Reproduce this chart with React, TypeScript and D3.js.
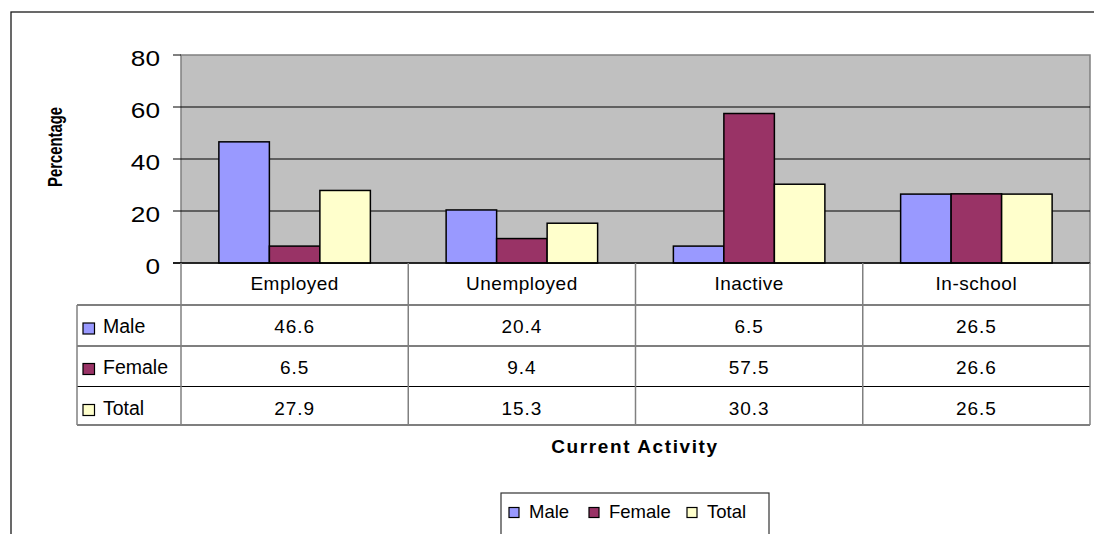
import React from "react";
import * as d3 from "d3";

const categories = ["Employed", "Unemployed", "Inactive", "In-school"];
const seriesNames = ["Male", "Female", "Total"];
const maleValues = [46.6, 20.4, 6.5, 26.5];
const femaleValues = [6.5, 9.4, 57.5, 26.6];
const totalValues = [27.9, 15.3, 30.3, 26.5];
const yTicks = [0, 20, 40, 60, 80];
const seriesColors = ["#9999FF", "#993366", "#FFFFCC"];

const FONT = "'Liberation Sans', Arial, Helvetica, sans-serif";

export default function App() {
  const W = 1094;
  const H = 534;
  const plotL = 181;
  const plotR = 1090;
  const plotT = 55;
  const plotB = 263;
  const tableLeft = 77;
  const rowLines = [305, 346, 386.5, 425];
  const rowBaselines = [333, 373.5, 414.5];

  const seriesValues = [maleValues, femaleValues, totalValues];

  const x0 = d3.scaleBand<string>().domain(categories).range([plotL, plotR]).paddingInner(0).paddingOuter(0);
  const x1 = d3
    .scaleBand<string>()
    .domain(seriesNames)
    .range([0, x0.bandwidth()])
    .paddingInner(0)
    .paddingOuter(0.75);
  const y = d3.scaleLinear().domain([0, 80]).range([plotB, plotT]);

  const tableBottom = rowLines[rowLines.length - 1];
  const fmt = d3.format(".1f");

  return (
    <svg
      width={W}
      height={H}
      style={{ position: "fixed", left: 0, top: 0, background: "#fff" }}
      fontFamily={FONT}
    >
      {/* outer frame */}
      <rect x={11} y={12} width={1100} height={540} fill="#fff" stroke="#1a1a1a" strokeWidth={1.3} />

      {/* plot area */}
      <rect x={plotL} y={plotT} width={plotR - plotL} height={plotB - plotT} fill="#C0C0C0" stroke="#808080" strokeWidth={1.5} />

      {/* gridlines */}
      {yTicks
        .filter((t) => t > 0 && t < 80)
        .map((t) => (
          <line key={"g" + t} x1={plotL} x2={plotR} y1={y(t)} y2={y(t)} stroke="#000" strokeWidth={1} />
        ))}

      {/* y ticks */}
      {yTicks.map((t) => (
        <g key={"t" + t}>
          <line x1={plotL - 8} x2={plotL} y1={y(t)} y2={y(t)} stroke="#000" strokeWidth={1} />
          <text
            transform={`translate(160,${y(t) + 10.5}) scale(1.22,1)`}
            textAnchor="end"
            fontSize={21.5}
            fill="#000"
          >
            {t}
          </text>
        </g>
      ))}

      {/* y axis title */}
      <text
        transform={`translate(62,147) rotate(-90)`}
        textAnchor="middle"
        fontSize={21}
        fontWeight="bold"
        textLength={80}
        lengthAdjust="spacingAndGlyphs"
        fill="#000"
      >
        Percentage
      </text>

      {/* bars */}
      {categories.map((c, ci) => (
        <g key={c}>
          {seriesNames.map((s, si) => {
            const v = seriesValues[si][ci];
            const bx = (x0(c) ?? 0) + (x1(s) ?? 0);
            return (
              <rect
                key={s}
                x={bx}
                y={y(v)}
                width={x1.bandwidth()}
                height={y(0) - y(v)}
                fill={seriesColors[si]}
                stroke="#000"
                strokeWidth={1.5}
              />
            );
          })}
        </g>
      ))}

      {/* x axis line */}
      <line x1={plotL - 8} x2={plotR} y1={plotB} y2={plotB} stroke="#000" strokeWidth={1.5} />

      {/* data table: horizontal lines */}
      {rowLines.map((ly, r) => (
        <line key={"h" + r} x1={tableLeft} x2={plotR} y1={ly} y2={ly} stroke="#000" strokeWidth={1.2} />
      ))}
      {/* vertical lines */}
      {categories.map((c) => (
        <line key={"v" + c} x1={x0(c)} x2={x0(c)} y1={plotB} y2={tableBottom} stroke="#808080" strokeWidth={1.5} />
      ))}
      <line x1={plotR} x2={plotR} y1={plotB} y2={tableBottom} stroke="#808080" strokeWidth={1.5} />
      <line x1={tableLeft} x2={tableLeft} y1={rowLines[0]} y2={tableBottom} stroke="#808080" strokeWidth={1.5} />

      {/* header labels */}
      {categories.map((c) => (
        <text
          key={"hl" + c}
          x={(x0(c) ?? 0) + x0.bandwidth() / 2}
          y={290}
          textAnchor="middle"
          fontSize={19}
          letterSpacing={0.5}
          fill="#000"
        >
          {c}
        </text>
      ))}

      {/* row labels and values */}
      {seriesNames.map((s, si) => {
        const by = rowBaselines[si];
        return (
          <g key={"row" + s}>
            <rect x={83} y={by - 10} width={11.5} height={11} fill={seriesColors[si]} stroke="#000" strokeWidth={1.2} />
            <text x={103} y={by} fontSize={19.5} fill="#000">
              {s}
            </text>
            {categories.map((c, ci) => (
              <text
                key={c}
                x={(x0(c) ?? 0) + x0.bandwidth() / 2}
                y={by}
                textAnchor="middle"
                fontSize={19}
                letterSpacing={1}
                fill="#000"
              >
                {fmt(seriesValues[si][ci])}
              </text>
            ))}
          </g>
        );
      })}

      {/* x axis title */}
      <text x={635} y={453} textAnchor="middle" fontSize={19} fontWeight="bold" letterSpacing={1.6} fill="#000">
        Current Activity
      </text>

      {/* legend */}
      <rect x={501} y={493} width={268} height={60} fill="#fff" stroke="#333" strokeWidth={1.2} />
      {(() => {
        const itemX = [509, 589, 687];
        return seriesNames.map((s, si) => (
          <g key={"lg" + s}>
            <rect x={itemX[si]} y={507.5} width={10} height={10} fill={seriesColors[si]} stroke="#000" strokeWidth={1.2} />
            <text x={itemX[si] + 20} y={518} fontSize={18.5} fill="#000">
              {s}
            </text>
          </g>
        ));
      })()}
    </svg>
  );
}
